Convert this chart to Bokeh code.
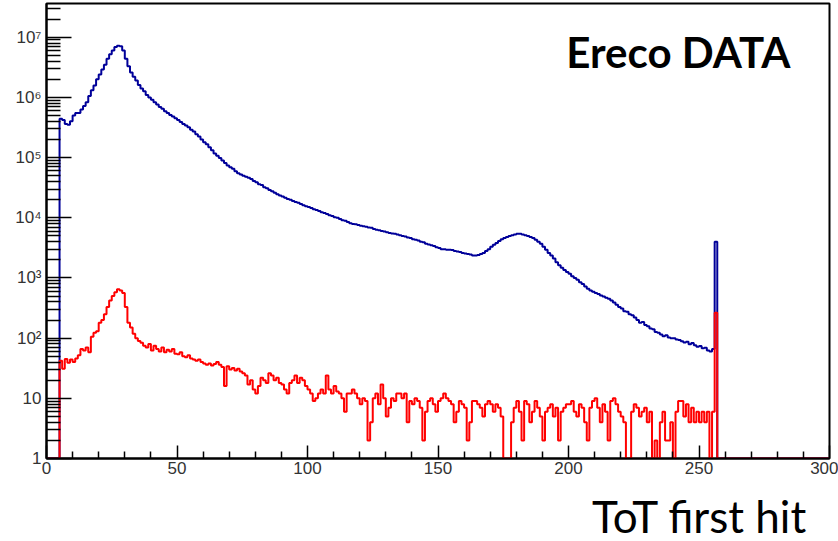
import numpy as np
from bokeh.plotting import figure
from bokeh.models import FixedTicker, Label, Range1d, Title
from bokeh.embed import file_html
from bokeh.resources import INLINE

# ---------------- data ----------------
n_bins = 300
x_lo, x_hi = 0, 300
first_bin = 5          # first filled bin of both histograms

blue_counts = [
    4.4e5, 4.2e5, 3.6e5, 3.5e5, 4.0e5, 5.0e5, 5.5e5, 5.5e5, 6.3e5, 7.2e5,
    8.3e5, 1.05e6, 1.32e6, 1.58e6, 2.0e6, 2.4e6, 2.9e6, 3.5e6, 4.4e6, 5.2e6,
    6.0e6, 6.9e6, 7.2e6, 7.1e6, 6.0e6, 4.4e6, 3.3e6, 2.6e6, 2.2e6, 1.9e6,
    1.6e6, 1.4e6, 1.26e6, 1.1e6, 1.0e6, 9.1e5, 8.3e5, 7.6e5, 6.9e5, 6.5e5,
    5.9e5, 5.5e5, 5.1e5, 4.8e5, 4.5e5, 4.2e5, 3.9e5, 3.6e5, 3.4e5, 3.2e5,
    2.9e5, 2.7e5, 2.45e5, 2.25e5, 2.0e5, 1.8e5, 1.66e5, 1.48e5, 1.32e5, 1.17e5,
    1.07e5, 9.8e4, 8.9e4, 8.1e4, 7.4e4, 6.9e4, 6.5e4, 5.9e4, 5.5e4, 5.25e4,
    5.0e4, 4.8e4, 4.6e4, 4.4e4, 4.1e4, 3.9e4, 3.6e4, 3.5e4, 3.2e4, 3.1e4,
    2.9e4, 2.75e4, 2.6e4, 2.45e4, 2.35e4, 2.25e4, 2.15e4, 2.05e4, 2.0e4, 1.9e4,
    1.82e4, 1.78e4, 1.7e4, 1.62e4, 1.55e4, 1.51e4, 1.45e4, 1.38e4, 1.35e4, 1.29e4,
    1.23e4, 1.2e4, 1.15e4, 1.1e4, 1.07e4, 1.02e4, 1.0e4, 9.5e3, 9.1e3, 8.9e3,
    8.5e3, 8.1e3, 7.9e3, 7.8e3, 7.6e3, 7.4e3, 7.2e3, 7.1e3, 6.9e3, 6.8e3,
    6.5e3, 6.3e3, 6.2e3, 6.0e3, 5.9e3, 5.75e3, 5.6e3, 5.5e3, 5.4e3, 5.25e3,
    5.1e3, 5.0e3, 4.9e3, 4.7e3, 4.6e3, 4.4e3, 4.3e3, 4.2e3, 4.0e3, 3.9e3,
    3.7e3, 3.6e3, 3.5e3, 3.4e3, 3.25e3, 3.15e3, 3.0e3, 3.0e3, 2.95e3, 2.95e3,
    2.9e3, 2.8e3, 2.75e3, 2.7e3, 2.6e3, 2.55e3, 2.5e3, 2.45e3, 2.35e3, 2.35e3,
    2.4e3, 2.5e3, 2.6e3, 2.8e3, 3.0e3, 3.3e3, 3.55e3, 3.8e3, 4.1e3, 4.4e3,
    4.6e3, 4.8e3, 5.0e3, 5.1e3, 5.25e3, 5.4e3, 5.4e3, 5.25e3, 5.1e3, 5.0e3,
    4.8e3, 4.6e3, 4.3e3, 4.0e3, 3.7e3, 3.3e3, 2.95e3, 2.6e3, 2.35e3, 2.1e3,
    1.82e3, 1.62e3, 1.48e3, 1.35e3, 1.26e3, 1.17e3, 1.07e3, 1.0e3, 930, 850,
    790, 720, 660, 620, 590, 560, 540, 510, 490, 470,
    450, 420, 390, 360, 330, 310, 280, 275, 250, 240,
    220, 200, 180, 186, 166, 158, 145, 141, 126, 123,
    115, 107, 112, 102, 100, 100, 95, 93, 89, 85,
    87, 79, 83, 76, 72, 74, 68, 69, 62, 60,
    66, 4000,
]

red_counts = [
    42, 31, 45, 39, 44, 40, 46, 52, 66, 62,
    70, 58, 105, 123, 130, 180, 200, 250, 330, 420,
    500, 580, 650, 620, 560, 330, 180, 150, 118, 100,
    90, 84, 75, 70, 80, 62, 75, 66, 60, 70,
    58, 64, 60, 66, 55, 54, 58, 50, 48, 52,
    46, 44, 42, 44, 40, 38, 36, 38, 35, 37,
    40, 36, 33, 16, 34, 30, 32, 29, 31, 28,
    26, 24, 17, 20, 14, 12, 16, 22, 20, 18,
    26, 24, 20, 22, 18, 17, 14, 12, 18, 20,
    24, 18, 22, 20, 16, 14, 12, 9, 10, 12,
    14, 12, 24, 14, 12, 16, 13, 12, 10, 6,
    12, 12, 14, 12, 10, 8, 10, 9, 2, 4,
    10, 12, 8, 17, 10, 5, 7, 10, 9, 12,
    12, 10, 12, 4, 9, 8, 10, 9, 7, 2,
    6, 9, 10, 8, 6, 9, 10, 12, 10, 9,
    8, 4, 6, 9, 8, 7, 2, 4, 9, 9,
    8, 7, 5, 8, 9, 8, 6, 8, 7, 5,
    0, 1, 0, 4, 7, 9, 6, 2, 9, 8,
    4, 6, 9, 7, 5, 2, 6, 7, 8, 5,
    7, 2, 6, 7, 8, 8, 9, 6, 5, 8,
    7, 4, 2, 7, 9, 10, 7, 4, 8, 6,
    2, 9, 10, 8, 6, 5, 4, 0, 0, 6,
    8, 7, 5, 6, 7, 4, 6, 1, 2, 0,
    4, 6, 2, 2, 4, 1, 6, 9, 9, 5,
    8, 4, 7, 4, 6, 4, 6, 4, 6, 0,
    6, 263,
]

x_major = [0, 50, 100, 150, 200, 250, 300]
x_minor = [v for v in range(0, 301, 10) if v % 50]
y_major = [1, 10, 100, 1000, 10000, 100000, 1000000, 10000000]
y_labels = ["1", "10", "10²", "10³", "10⁴", "10⁵", "10⁶", "10⁷"]
y_minor = [m * 10 ** e for e in range(0, 8) for m in range(2, 10)]

title_text = "Ereco DATA"
xlabel_text = "ToT first hit"

# ---------------- build histograms ----------------
def full_hist(counts):
    arr = np.zeros(n_bins)
    arr[first_bin:first_bin + len(counts)] = counts
    return arr

y_floor = 1.0
edges = np.linspace(x_lo, x_hi, n_bins + 1)

def step_vals(arr):
    c = np.maximum(arr, y_floor)
    return np.append(c, c[-1])

blue = full_hist(blue_counts)
red = full_hist(red_counts)

y_top = 10 ** 7.56

p = figure(width=838, height=541, output_backend="svg", toolbar_location=None,
           y_axis_type="log", x_range=Range1d(x_lo, x_hi), y_range=Range1d(y_floor, y_top),
           min_border_left=46, min_border_right=9, min_border_top=3, min_border_bottom=82,
           background_fill_color="white", border_fill_color="white")

p.xgrid.visible = False
p.ygrid.visible = False
p.outline_line_color = "black"
p.outline_line_width = 2

p.step(x=edges, y=step_vals(blue), mode="after", line_color="#000099", line_width=2)
p.step(x=edges, y=step_vals(red), mode="after", line_color="#ff0000", line_width=2)

p.xaxis.ticker = FixedTicker(ticks=x_major, minor_ticks=x_minor)
p.yaxis.ticker = FixedTicker(ticks=y_major, minor_ticks=y_minor)
p.yaxis.major_label_overrides = dict(zip(y_major, y_labels))

for ax in (p.xaxis[0], p.yaxis[0]):
    ax.major_tick_out = 0
    ax.minor_tick_out = 0
    ax.axis_line_width = 2
    ax.axis_line_color = "black"
    ax.major_tick_line_width = 1.5
    ax.minor_tick_line_width = 1.5
    ax.major_label_text_font = "Liberation Sans"
    ax.major_label_text_font_size = "17px"
    ax.major_label_text_color = "#333333"

p.xaxis.major_tick_in = 13
p.xaxis.minor_tick_in = 7
p.xaxis.major_label_standoff = 3
p.yaxis.major_tick_in = 25
p.yaxis.minor_tick_in = 14
p.yaxis.major_label_standoff = 5

p.add_layout(Label(x=285, y=10 ** 6.76, text=title_text, text_align="right",
                   text_baseline="alphabetic", text_font="Lato", text_font_style="bold",
                   text_font_size="42px", text_color="black"))
# thin spacer between the tick labels and the axis title
p.add_layout(Title(text=" ", standoff=0, text_font_size="8px"), "below")
p.add_layout(Title(text=xlabel_text, align="right", offset=22, standoff=0,
                   text_font="Lato", text_font_style="normal",
                   text_font_size="44px", text_color="black"), "below")

open("out.html", "w").write(file_html(p, INLINE))
